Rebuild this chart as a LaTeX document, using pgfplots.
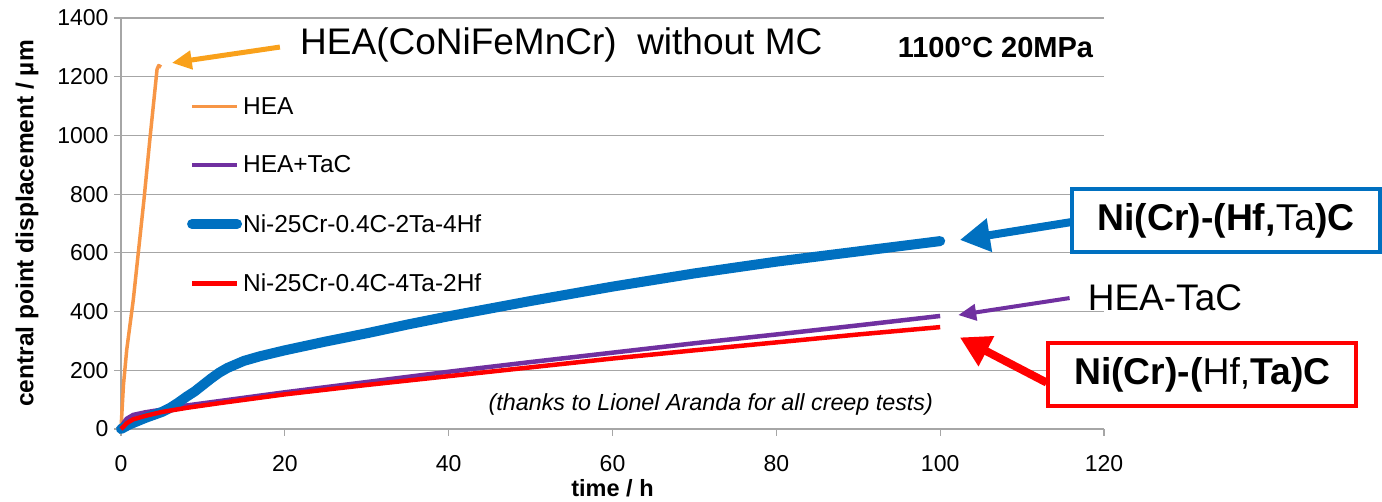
\documentclass[border=0pt]{standalone}
\usepackage{pgfplots}
\pgfplotsset{compat=1.18}
\usepackage{fontspec}
\setmainfont{Liberation Sans}
\usetikzlibrary{arrows.meta}

\definecolor{heaor}{HTML}{F79646}
\definecolor{arror}{HTML}{F9A11B}
\definecolor{mblue}{HTML}{0070C0}
\definecolor{mpurp}{HTML}{7030A0}
\definecolor{mred}{HTML}{FF0000}
\definecolor{gridg}{HTML}{A6A6A6}

\newcommand{\fs}[1]{\fontsize{#1}{#1}\selectfont}

\begin{document}
\begin{tikzpicture}
\begin{axis}[
  at={(0,0)}, anchor=south west,
  scale only axis,
  width=983pt, height=411pt,
  xmin=0, xmax=120, ymin=0, ymax=1400,
  xtick={0,20,...,120},
  ytick={0,200,...,1400},
  axis lines=left,
  axis line style={gridg, line width=1.2pt, -},
  tick style={gridg, line width=1.2pt},
  tick align=outside,
  major tick length=7pt,
  ymajorgrids,
  grid style={gridg, line width=1.2pt},
  /pgf/number format/assume math mode=true,
  /pgf/number format/1000 sep={},
  tick label style={font=\fs{23}, black},
  xticklabel style={yshift=-16pt},
  yticklabel style={xshift=-2pt},
  xlabel={\textbf{time / h}},
  ylabel={\textbf{central point displacement / µm}},
  xlabel style={font=\fs{23.5}, at={(rel axis cs:0.5,0)}, yshift=-47pt},
  ylabel style={font=\fs{24.5}, at={(rel axis cs:0,0.5)}, yshift=79pt},
  clip=false,
  legend style={at={(rel axis cs:0.067,0.812)}, anchor=north west,
    draw=none, fill=none, inner sep=0pt, font=\fs{24.5},
    row sep=36pt, nodes={inner xsep=1pt}},
  legend cell align=left,
  legend image code/.code={\draw[#1] (0pt,0pt) -- (45pt,0pt);},
]
\addplot[heaor, line width=3.5pt, line join=round] coordinates {
  (0,0) (0.3,150) (0.7,270) (1.5,440) (2.8,780) (3.5,980) (4.2,1170)
  (4.4,1225) (4.6,1238) (4.9,1233)};
\addlegendentry{HEA}
\addplot[mpurp, line width=4.5pt, line join=round] coordinates {
  (0,0) (0.3,20) (0.7,35) (1.5,48) (3,57) (5,66) (8,80) (12,95) (20,125)
  (30,160) (40,195) (50,228) (60,260) (70,292) (80,322) (90,353) (100,385)};
\addlegendentry{HEA+TaC}
\addplot[mblue, line width=10pt, line join=round, line cap=round] coordinates {
  (0,0) (1,15) (3,38) (5,58) (6,72) (7,90) (8,110) (9,128) (10,150) (11,172)
  (12,192) (13,208) (15,232) (17,248) (20,268) (25,298) (30,326) (35,356)
  (40,384) (50,436) (60,485) (70,530) (80,570) (90,605) (100,640)};
\addlegendentry{Ni-25Cr-0.4C-2Ta-4Hf}
\addplot[mred, line width=4.5pt, line join=round] coordinates {
  (0,0) (0.3,8) (0.7,20) (1.5,33) (3,45) (5,58) (8,72) (12,88) (20,118)
  (30,150) (40,180) (50,210) (60,240) (70,268) (80,295) (90,322) (100,347)};
\addlegendentry{Ni-25Cr-0.4C-4Ta-2Hf}

% annotations
\node[anchor=west, inner sep=0pt, font=\fs{37}] at (axis cs:21.85,1308)
  {HEA(CoNiFeMnCr)\ \ without MC};
\draw[arror, line width=5pt, -{Triangle[length=20pt,width=18pt]}]
  (axis cs:19.4,1301) -- (axis cs:6.2,1247);
\node[anchor=east, inner sep=0pt, font=\fs{29}\bfseries] at (axis cs:118.7,1298)
  {1100°C 20MPa};
\node[font=\fs{23.3}\itshape, inner sep=0pt] at (axis cs:72,85)
  {(thanks to Lionel Aranda for all creep tests)};

\draw[mblue, line width=8pt, -{Triangle[length=30pt,width=32pt]}]
  (axis cs:116.5,707) -- (axis cs:102.4,644);
\node[draw=mblue, line width=4pt, fill=white, minimum width=308pt,
  minimum height=63pt, font=\fs{37.3}] at (axis cs:134.9,710)
  {\textbf{Ni(Cr)-(Hf,}Ta\textbf{)C}};

\draw[mpurp, line width=4pt, -{Triangle[length=18pt,width=16pt]}]
  (axis cs:115.8,446) -- (axis cs:102.2,388);
\node[anchor=west, inner sep=0pt, font=\fs{37}] at (axis cs:118.0,446) {HEA-TaC};

\draw[mred, line width=8pt, -{Triangle[length=30pt,width=32pt]}]
  (axis cs:113,158) -- (axis cs:102.4,312);
\node[draw=mred, line width=4pt, fill=white, minimum width=308pt,
  minimum height=63pt, font=\fs{37.3}] at (axis cs:132.0,185.6)
  {\textbf{Ni(Cr)-(}Hf,\textbf{Ta)C}};
\end{axis}
\pgfresetboundingbox
\path[use as bounding box] (-121pt,-73pt) rectangle (1261pt,429pt);
\end{tikzpicture}
\end{document}
